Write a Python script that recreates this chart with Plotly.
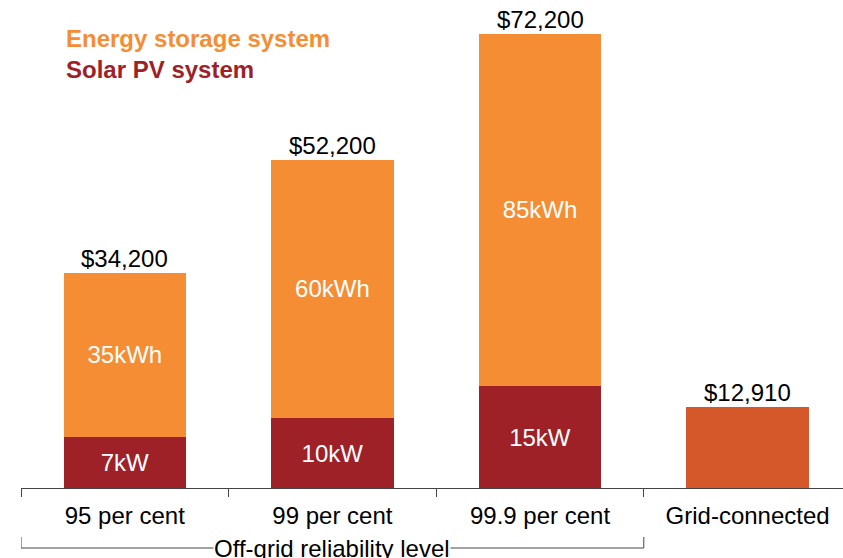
import plotly.graph_objects as go

categories = ["95 per cent", "99 per cent", "99.9 per cent", "Grid-connected"]
solar_cost = [8100, 11100, 16200, None]
storage_cost = [26100, 41100, 56000, None]
grid_cost = [None, None, None, 12910]
totals = [34200, 52200, 72200, 12910]
solar_labels = ["7kW", "10kW", "15kW", ""]
storage_labels = ["35kWh", "60kWh", "85kWh", ""]
total_labels = ["$34,200", "$52,200", "$72,200", "$12,910"]

ORANGE = "#F58D35"
RED = "#9E2128"
GRID = "#D4582A"
FONT = "Liberation Sans, Arial, sans-serif"

fig = go.Figure()
fig.add_trace(go.Bar(x=categories, y=solar_cost, marker_color=RED, marker_line_width=0,
                     text=solar_labels, textposition="inside", insidetextanchor="middle",
                     textfont=dict(color="white", size=24, family=FONT), width=0.59,
                     hoverinfo="skip"))
fig.add_trace(go.Bar(x=categories, y=storage_cost, marker_color=ORANGE, marker_line_width=0,
                     text=storage_labels, textposition="inside", insidetextanchor="middle",
                     textfont=dict(color="white", size=24, family=FONT), width=0.59,
                     hoverinfo="skip"))
fig.add_trace(go.Bar(x=categories, y=grid_cost, marker_color=GRID, marker_line_width=0,
                     width=0.59, hoverinfo="skip"))

for c, t, lab in zip(categories, totals, total_labels):
    fig.add_annotation(x=c, y=t, text=lab, showarrow=False, yanchor="bottom", yshift=-1,
                       font=dict(size=24, color="black", family=FONT))

# legend as coloured text
fig.add_annotation(xref="paper", yref="paper", x=(64 - 21) / 822, y=1 - 38 / 488,
                   xanchor="left", yanchor="middle", showarrow=False,
                   text="<b>Energy storage system</b>", font=dict(size=24, color=ORANGE, family=FONT))
fig.add_annotation(xref="paper", yref="paper", x=(64 - 21) / 822, y=1 - 69 / 488,
                   xanchor="left", yanchor="middle", showarrow=False,
                   text="<b>Solar PV system</b>", font=dict(size=24, color=RED, family=FONT))

# bracket for off-grid group
by = -(548 - 488) / 488
ty = -(537 - 488) / 488
line = dict(color="#444444", width=1)
fig.add_shape(type="line", xref="x", yref="paper", x0=-0.5, x1=2.5, y0=by, y1=by, line=line)
fig.add_shape(type="line", xref="x", yref="paper", x0=-0.5, x1=-0.5, y0=by, y1=ty, line=line)
fig.add_shape(type="line", xref="x", yref="paper", x0=2.5, x1=2.5, y0=by, y1=ty, line=line)
fig.add_annotation(xref="x", yref="paper", x=1, y=by, text="Off-grid reliability level",
                   showarrow=False, yanchor="middle", bgcolor="white", borderpad=0,
                   font=dict(size=24, color="black", family=FONT))

fig.update_layout(
    width=843, height=558, barmode="stack", showlegend=False,
    margin=dict(l=21, r=0, t=0, b=70),
    plot_bgcolor="white", paper_bgcolor="white",
    font=dict(family=FONT, color="black"),
    xaxis=dict(range=[-0.5, -0.5 + 822 / 207.6], showline=True, linecolor="#444444", linewidth=1,
               ticks="outside", tickson="boundaries", ticklen=8, tickcolor="#444444",
               ticklabelstandoff=6,
               tickfont=dict(size=24, color="black", family=FONT), showgrid=False,
               fixedrange=True),
    yaxis=dict(range=[0, 77550], visible=False, showgrid=False, fixedrange=True),
)

fig.write_html("out.html", config={"displayModeBar": False},
               post_script="document.body.style.margin='0';document.body.style.overflow='hidden';")
